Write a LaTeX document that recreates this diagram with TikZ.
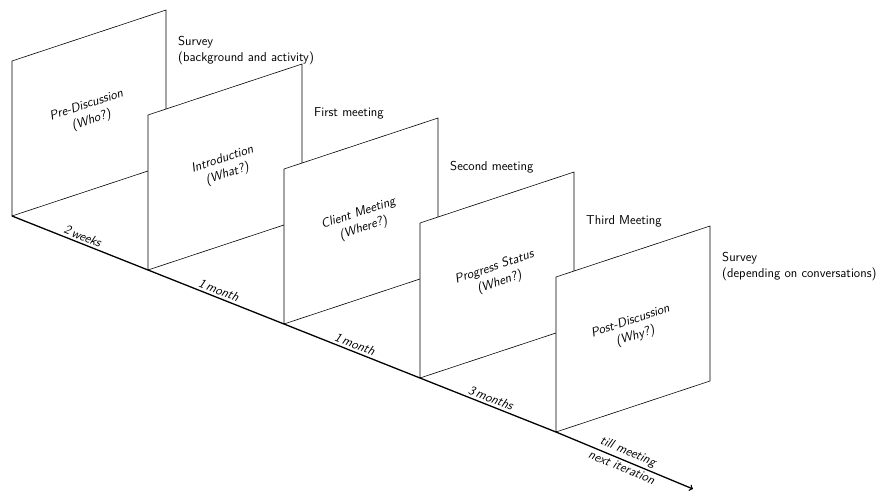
\documentclass[tikz,border=0pt]{standalone}
\renewcommand{\familydefault}{\sfdefault}
\begin{document}
\begin{tikzpicture}[x=0.3mm,y=-0.3mm,
  every node/.style={font=\fontsize{11}{13.5}\selectfont},
  panel/.style={draw,fill=white,line width=0.5pt},
  topic/.style={font=\fontsize{11}{13.5}\selectfont\itshape,align=center,rotate=18.3},
  note/.style={anchor=south west,align=left,inner sep=0pt},
  span/.style={sloped,font=\fontsize{11}{13.5}\selectfont\itshape,inner sep=2pt}]
\useasboundingbox (0,0) rectangle (880,492);

% corners of the panels on the time line
\coordinate (b1) at (12,216);
\coordinate (b2) at (148,270);
\coordinate (b3) at (284,324);
\coordinate (b4) at (420,378);
\coordinate (b5) at (556,432);
\coordinate (tip) at (693,489);

\draw[panel] (b1) -- ++(0,-155) -- ++(154,-51) -- ++(0,155) -- cycle;
\node[topic] (t1) at (89,113) {Pre-Discussion\\(Who?)};
\draw[panel] (b2) -- ++(0,-155) -- ++(154,-51) -- ++(0,155) -- cycle;
\node[topic] (t2) at (225,167) {Introduction\\(What?)};
\draw[panel] (b3) -- ++(0,-155) -- ++(154,-51) -- ++(0,155) -- cycle;
\node[topic] (t3) at (361,221) {Client Meeting\\(Where?)};
\draw[panel] (b4) -- ++(0,-155) -- ++(154,-51) -- ++(0,155) -- cycle;
\node[topic] (t4) at (497,275) {Progress Status\\(When?)};
\draw[panel] (b5) -- ++(0,-155) -- ++(154,-51) -- ++(0,155) -- cycle;
\node[topic] (t5) at (633,329) {Post-Discussion\\(Why?)};

\node[note] (n1) at (178,65) {Survey\\(background and activity)};
\node[note] (n2) at (314,119) {First meeting};
\node[note] (n3) at (450,173) {Second meeting};
\node[note] (n4) at (586,227) {Third Meeting};
\node[note] (n5) at (722,281) {Survey\\(depending on conversations)};

% time line
\draw[line width=1.1pt] (b1) -- node[span,above] {2\,weeks} (b2)
  -- node[span,above] {1\,month} (b3)
  -- node[span,above] {1\,month} (b4)
  -- node[span,above] {3\,months} (b5);
\draw[line width=1.1pt,->] (b5) -- node[span,above] {till meeting}
  node[span,below] {next iteration} (tip);
\end{tikzpicture}
\end{document}
